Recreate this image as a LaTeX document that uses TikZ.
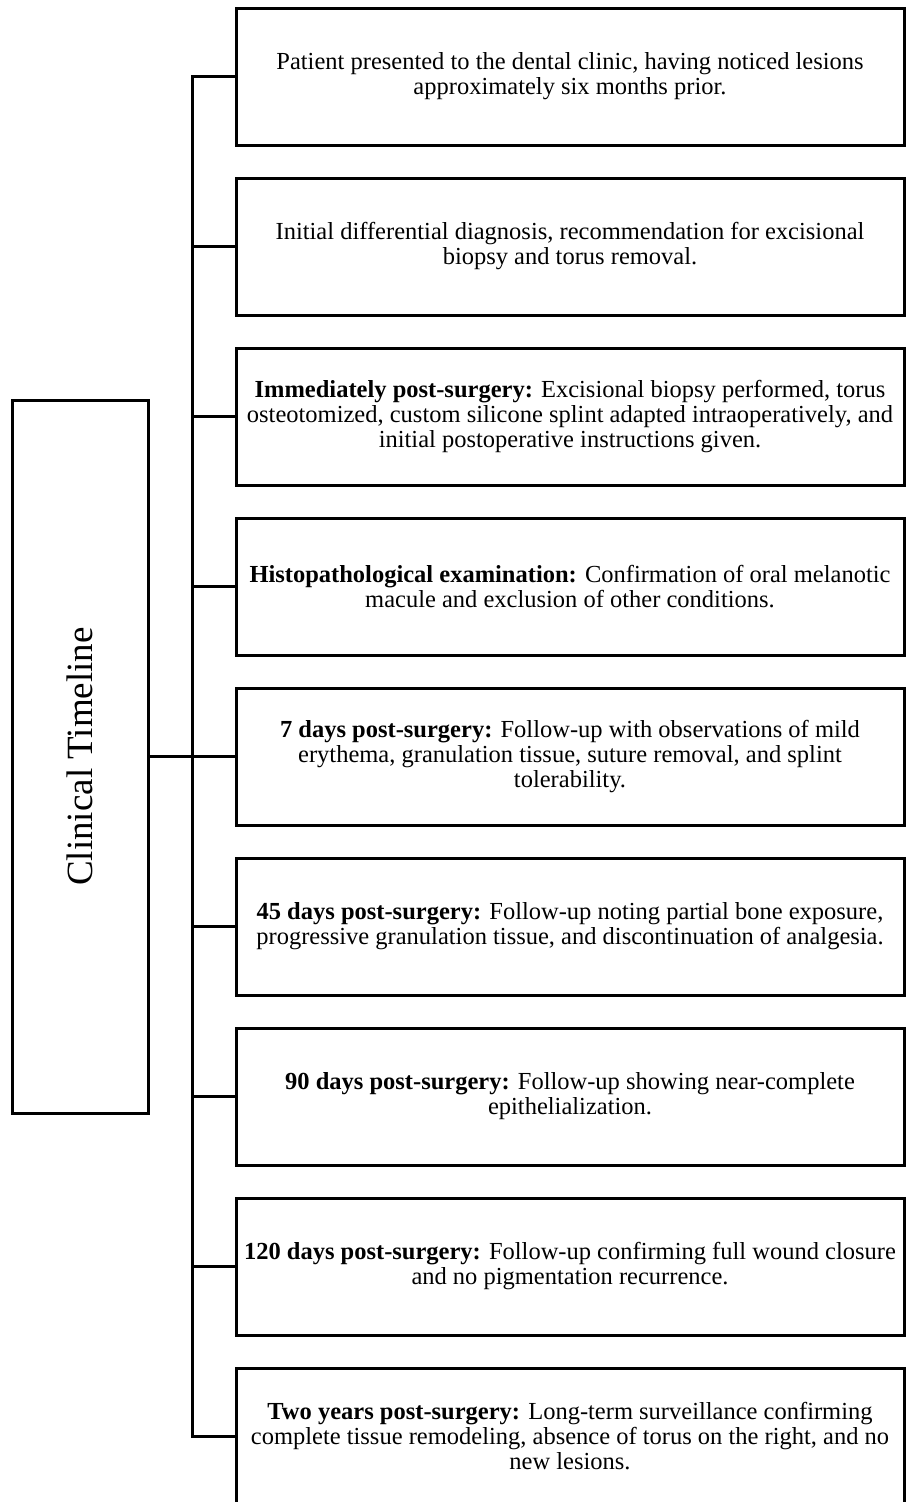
\documentclass[tikz,border=0pt]{standalone}
\usepackage{fontspec}
\setmainfont{Liberation Serif}
\begin{document}
\begin{tikzpicture}[x=1pt,y=-1pt,
  evbox/.style={draw,line width=3pt,minimum width=668pt,minimum height=137pt,
    align=center,inner sep=0pt,font=\fontsize{24.5}{25}\selectfont},
  titlebox/.style={draw,line width=3pt,minimum width=136pt,minimum height=713pt,inner sep=0pt},
  conn/.style={line width=3pt}]
\useasboundingbox (0,0) rectangle (908,1502);
\node[titlebox] (lt) at (80,756.5) {};
\node[rotate=90,font=\fontsize{37}{40}\selectfont] (ltt) at (lt.center) {Clinical Timeline};
\node[evbox] (b1) at (570,76.5) {Patient presented to the dental clinic, having noticed lesions\\approximately six months prior.};
\node[evbox] (b2) at (570,246.5) {Initial differential diagnosis, recommendation for excisional\\biopsy and torus removal.};
\node[evbox] (b3) at (570,416.5) {\textbf{Immediately post-surgery:} Excisional biopsy performed, torus\\osteotomized, custom silicone splint adapted intraoperatively, and\\initial postoperative instructions given.};
\node[evbox] (b4) at (570,586.5) {\textbf{Histopathological examination:} Confirmation of oral melanotic\\macule and exclusion of other conditions.};
\node[evbox] (b5) at (570,756.5) {\textbf{7 days post-surgery:} Follow-up with observations of mild\\erythema, granulation tissue, suture removal, and splint\\tolerability.};
\node[evbox] (b6) at (570,926.5) {\textbf{45 days post-surgery:} Follow-up noting partial bone exposure,\\progressive granulation tissue, and discontinuation of analgesia.};
\node[evbox] (b7) at (570,1096.5) {\textbf{90 days post-surgery:} Follow-up showing near-complete\\epithelialization.};
\node[evbox] (b8) at (570,1266.5) {\textbf{120 days post-surgery:} Follow-up confirming full wound closure\\and no pigmentation recurrence.};
\node[evbox] (b9) at (570,1436.5) {\textbf{Two years post-surgery:} Long-term surveillance confirming\\complete tissue remodeling, absence of torus on the right, and no\\new lesions.};
\coordinate (trunk) at (192,0);
\draw[conn] (b1.west) -| (trunk |- b1.west) |- (b9.west);
\foreach \b in {b2,b3,b4,b5,b6,b7,b8}
  \draw[conn] (\b.west) -- (trunk |- \b.west);
\draw[conn] (lt.east) -- (trunk |- lt.east);
\end{tikzpicture}
\end{document}
